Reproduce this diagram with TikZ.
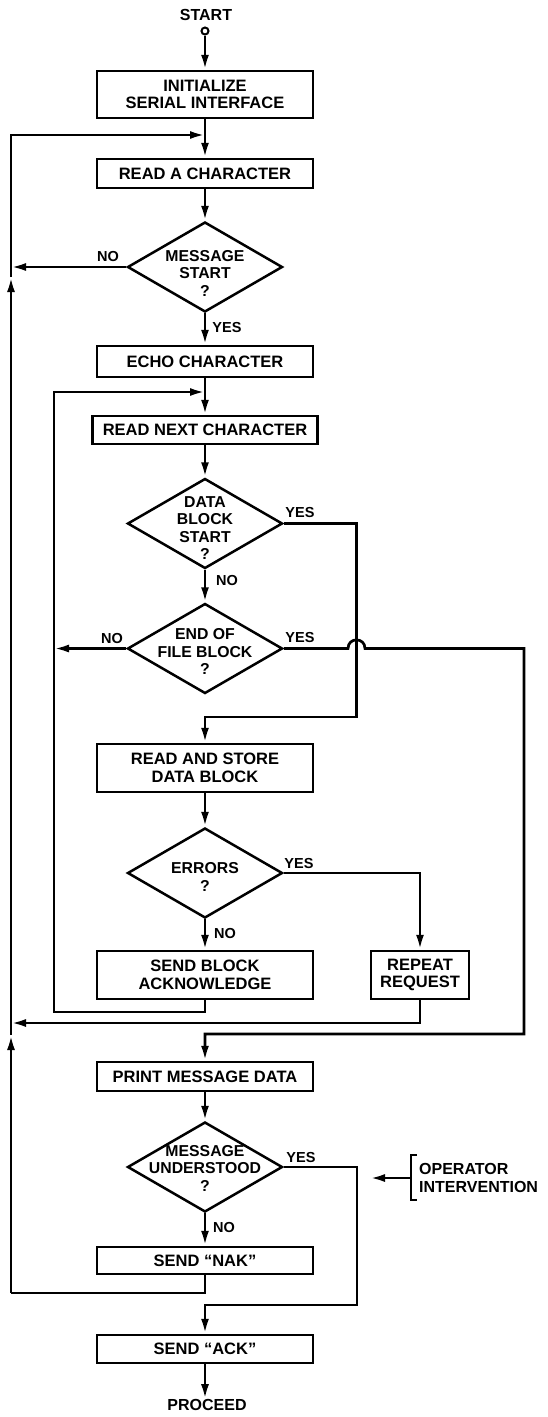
\documentclass[tikz,border=0pt]{standalone}
\usepackage{fontspec}
\setmainfont{Liberation Sans}
\usetikzlibrary{arrows.meta,shapes.geometric}
\begin{document}
\begin{tikzpicture}[x=1pt,y=-1pt,
  ln/.style={line width=2.7pt},
  arr/.style={line width=2.7pt,-{Latex[length=15pt,width=8pt]}},
  box/.style={draw,line width=2.5pt,rectangle,minimum width=216pt,inner sep=0pt,align=center,font=\bfseries\fontsize{16.5}{17.5}\selectfont},
  dia/.style={draw,line width=2.5pt,diamond,minimum width=155pt,minimum height=90pt,inner sep=0pt},
  dtxt/.style={align=center,inner sep=0pt,font=\bfseries\fontsize{15.8}{17.5}\selectfont},
  lbl/.style={inner sep=0pt,font=\bfseries\fontsize{14.5}{16}\selectfont},
  term/.style={inner sep=0pt,font=\bfseries\fontsize{16}{17.5}\selectfont}]
\useasboundingbox (0,0) rectangle (548,1417);

% nodes
\node[term] (startl) at (206,15) {START};
\node[draw,circle,line width=2pt,minimum size=7pt,inner sep=0pt] (startc) at (205,31) {};
\node[box,minimum height=47pt] (init) at (205,94.5) {INITIALIZE\\SERIAL INTERFACE};
\coordinate (j1) at (205,135);
\node[box,minimum height=29pt] (readA) at (205,173.5) {READ A CHARACTER};
\node[dia] (d1) at (205,267) {};
\node[dtxt] (d1t) at (205,273) {MESSAGE\\START\\?};
\coordinate (L1) at (11,267);
\node[box,minimum height=31pt] (echo) at (205,361.5) {ECHO CHARACTER};
\coordinate (j2) at (205,392);
\node[box,minimum width=225pt,minimum height=28pt] (readNext) at (205,430) {READ NEXT CHARACTER};
\node[dia] (d2) at (205,523.5) {};
\node[dtxt] (d2t) at (205,528) {DATA\\BLOCK\\START\\?};
\coordinate (r1) at (356.5,717);
\node[dia] (d3) at (205,648.5) {};
\node[dtxt] (d3t) at (205,651.5) {END OF\\FILE BLOCK\\?};
\coordinate (L2) at (54,648.5);
\coordinate (hopL) at (348,648.5);
\coordinate (hopR) at (365,648.5);
\coordinate (hopC1) at (348,637);
\coordinate (hopC2) at (365,637);
\coordinate (r3) at (524,1034);
\node[box,minimum height=48pt] (store) at (205,768) {READ AND STORE\\DATA BLOCK};
\node[dia] (d4) at (205,873) {};
\node[dtxt] (d4t) at (205,877) {ERRORS\\?};
\node[box,minimum height=48pt] (sendb) at (205,975) {SEND BLOCK\\ACKNOWLEDGE};
\node[box,minimum width=98pt,minimum height=48pt] (repeat) at (420,975) {REPEAT\\REQUEST};
\coordinate (ib) at (54,1012);
\coordinate (L3) at (11,1023);
\node[box,minimum height=29pt] (print) at (205,1076.5) {PRINT MESSAGE DATA};
\node[dia] (d5) at (205,1167) {};
\node[dtxt] (d5t) at (205,1168) {MESSAGE\\UNDERSTOOD\\?};
\coordinate (r4) at (357,1305);
\node[box,minimum height=27pt] (nak) at (205,1260.5) {SEND “NAK”};
\coordinate (lb) at (11,1293);
\coordinate (up2) at (11,1035);
\coordinate (up1) at (11,277);
\node[box,minimum height=28pt] (ack) at (205,1349) {SEND “ACK”};
\node[term] (proceed) at (207,1405) {PROCEED};
\coordinate (brT) at (417,1155);
\coordinate (brTL) at (411,1155);
\coordinate (brBL) at (411,1200);
\coordinate (brB) at (417,1200);
\coordinate (opb) at (411,1178);
\coordinate (opt) at (370,1178);
\node[term,anchor=west,align=left] (op) at (419,1178) {OPERATOR\\INTERVENTION};

% labels
\node[lbl] (n1) at (108,257) {NO};
\node[lbl] (y1) at (227,328) {YES};
\node[lbl] (y2) at (300,512) {YES};
\node[lbl] (n2) at (227,580) {NO};
\node[lbl] (n3) at (112,638) {NO};
\node[lbl] (y3) at (300,637) {YES};
\node[lbl] (y4) at (299,863) {YES};
\node[lbl] (n4) at (225,933) {NO};
\node[lbl] (y5) at (301,1157) {YES};
\node[lbl] (n5) at (224,1227) {NO};

% connectors
\draw[arr] (startc) -- (init);
\draw[ln] (init) -- (j1);
\draw[arr] (j1) -- (readA);
\draw[arr] (readA) -- (d1);
\draw[arr] (d1.west) -- (L1);
\draw[arr] (d1) -- (echo);
\draw[ln] (echo) -- (j2);
\draw[arr] (j2) -- (readNext);
\draw[arr] (readNext) -- (d2);
\draw[arr] (d2) -- (d3);
\draw[arr] (d2.east) -| (r1) -| (store.north);
\draw[arr] (d3.west) -- (L2);
\draw[arr] (d3.east) -- (hopL) .. controls (hopC1) and (hopC2) .. (hopR) -| (r3) -| (print.north);
\draw[arr] (store) -- (d4);
\draw[arr] (d4.east) -| (repeat.north);
\draw[arr] (d4) -- (sendb);
\draw[arr] (sendb.south) |- (ib) |- (j2);
\draw[arr] (repeat.south) |- (L3);
\draw[ln] (nak.south) |- (lb);
\draw[arr] (lb) -- (up2);
\draw[arr] (up2) -- (up1);
\draw[arr] (up1) |- (j1);
\draw[arr] (print) -- (d5);
\draw[arr] (d5) -- (nak);
\draw[arr] (d5.east) -| (r4) -| (ack.north);
\draw[arr] (ack.south) -- (ack.south |- proceed.north);
\draw[ln] (brT) -- (brTL) -- (brBL) -- (brB);
\draw[arr] (opb) -- (opt);
\end{tikzpicture}
\end{document}
